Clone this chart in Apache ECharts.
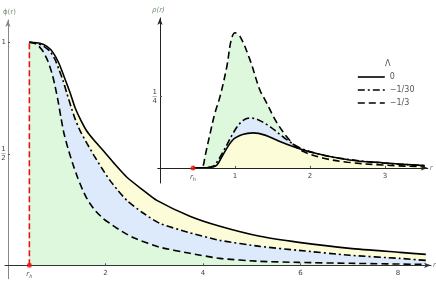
<!DOCTYPE html>
<html><head><meta charset="utf-8">
<script src="https://cdn.jsdelivr.net/npm/echarts@6/dist/echarts.min.js"></script>
<style>html,body{margin:0;padding:0;background:#fff}#c{width:436px;height:284px}</style>
</head><body><div id="c"></div>
<script>
const rh = 0.44;
const seriesNames = ['0', '\u22121/30', '\u22121/3'];
// main chart phi(r)
const phiSolidR = [0.44,0.656,0.8,0.923,1.046,1.149,1.272,1.374,1.497,1.621,1.785,1.949,2.195,2.441,2.749,3.056,3.733,4.349,5.169,5.969,7.015,8.041,8.574];
const phiSolid  = [1,0.996,0.982,0.955,0.906,0.848,0.776,0.709,0.650,0.601,0.556,0.516,0.453,0.395,0.341,0.291,0.220,0.175,0.130,0.103,0.076,0.058,0.049];
const phiDashDotR = [0.44,0.595,0.738,0.862,0.964,1.046,1.128,1.210,1.292,1.374,1.477,1.621,1.764,1.928,2.092,2.256,2.441,2.749,3.118,3.733,4.349,5.169,5.969,7.015,8.041,8.574];
const phiDashDot  = [1,0.996,0.982,0.960,0.924,0.879,0.830,0.771,0.713,0.659,0.605,0.547,0.493,0.435,0.381,0.336,0.291,0.238,0.188,0.146,0.112,0.085,0.067,0.045,0.031,0.022];
const phiDashedR = [0.44,0.533,0.615,0.718,0.821,0.903,0.964,1.026,1.087,1.149,1.231,1.333,1.436,1.538,1.641,1.785,1.949,2.092,2.338,2.605,3.118,3.733,4.349,5.169,5.969,7.015,8.574];
const phiDashed  = [1,0.996,0.987,0.960,0.915,0.861,0.807,0.740,0.664,0.592,0.525,0.453,0.390,0.336,0.291,0.247,0.211,0.188,0.152,0.121,0.081,0.054,0.031,0.018,0.013,0.009,0.004];
// inset rho(r)
const rhoSolidR = [0.44,0.62,0.7,0.76,0.84,0.97,1.1,1.24,1.4,1.64,2.0,2.53,2.97,3.53];
const rhoSolid  = [0,0,0.003,0.01,0.046,0.098,0.117,0.123,0.115,0.088,0.056,0.028,0.018,0.008];
const rhoDashDotR = [0.44,0.6,0.67,0.73,0.84,1.0,1.1,1.2,1.3,1.47,1.67,1.87,2.1,2.36,2.97,3.53];
const rhoDashDot  = [0,0,0.003,0.01,0.056,0.133,0.165,0.175,0.17,0.144,0.103,0.07,0.05,0.035,0.017,0.008];
const rhoDashedR = [0.44,0.52,0.57,0.6,0.67,0.73,0.8,0.89,0.95,1.0,1.07,1.2,1.33,1.4,1.56,1.72,1.87,2.17,2.5,2.97,3.53];
const rhoDashed  = [0,0,0.005,0.04,0.123,0.19,0.25,0.354,0.45,0.474,0.46,0.379,0.274,0.239,0.158,0.1,0.063,0.035,0.02,0.01,0.004];
const mainXTicks = [rh, 2, 4, 6, 8];
const mainYTicks = [0.5, 1];
const insetXTicks = [rh, 1, 2, 3];
const insetYTicks = [0.25];

const pair = (xs, ys) => xs.map((x, i) => [x, ys[i]]);
const GREEN = '#ddf8dc', BLUE = '#dceafc', YELLOW = '#fcfcd8';
const SOLID = 'solid', DASHDOT = [7, 3, 2, 3], DASHED = [7, 4];
const FONT = 'DejaVu Sans';

const rich = {
  r: {fontStyle: 'italic', fontSize: 7, color: '#555', fontFamily: FONT},
  h: {fontStyle: 'italic', fontSize: 5, color: '#555', verticalAlign: 'bottom', padding: [4, 0, 0, 0], fontFamily: FONT},
  n: {fontSize: 7, color: '#444', lineHeight: 7, align: 'center', fontFamily: FONT},
  b: {fontSize: 5, color: '#444', lineHeight: 2, align: 'center', fontFamily: FONT},
  d: {fontSize: 7, color: '#444', lineHeight: 7, align: 'center', fontFamily: FONT},
  t: {fontSize: 7, color: '#444', fontFamily: FONT}
};
const xFmt = v => Math.abs(v - rh) < 1e-6 ? '{r|r}{h|h}' : '{t|' + Math.round(v) + '}';
const yFmt = v => {
  if (Math.abs(v - 1) < 1e-6) return '{t|1}';
  if (Math.abs(v - 0.5) < 1e-6) return '{n|1}\n{b|\u2014}\n{d|2}';
  if (Math.abs(v - 0.25) < 1e-6) return '{n|1}\n{b|\u2014}\n{d|4}';
  return '';
};

function fill(xi, yi, xs, ys, color, z) {
  return {type: 'line', xAxisIndex: xi, yAxisIndex: yi, data: pair(xs, ys), symbol: 'none',
    smooth: 0.2, lineStyle: {width: 0, opacity: 0},
    areaStyle: {color: color, opacity: 1, origin: 'auto'}, z: z, silent: true, legendHoverLink: false};
}
function line(name, xi, yi, xs, ys, type, sm) {
  return {name: name, type: 'line', xAxisIndex: xi, yAxisIndex: yi, data: pair(xs, ys), symbol: 'none',
    smooth: sm, color: '#000', lineStyle: {color: '#000', width: 1.6, type: type}, z: 5};
}

const axisCommon = (color) => ({
  z: 8,
  axisLine: {show: true, onZero: true, lineStyle: {color: color, width: 1}, symbol: ['none', 'arrow'], symbolSize: [4, 7]},
  splitLine: {show: false}
});

const chart = echarts.init(document.getElementById('c'), null, {renderer: 'canvas'});
chart.setOption({
  animation: false,
  backgroundColor: '#fff',
  grid: [
    {left: 5, top: 20, width: 426, height: 258.7, outerBoundsMode: 'none', containLabel: false},
    {left: 157.75, top: 18, width: 270, height: 165, outerBoundsMode: 'none', containLabel: false}
  ],
  title: {text: '\u039b', left: 380, top: 55, textStyle: {fontSize: 8, fontWeight: 'normal', color: '#555', fontFamily: FONT}},
  legend: {
    orient: 'vertical', left: 352, top: 68, itemWidth: 27, itemHeight: 10, itemGap: 5,
    data: seriesNames, itemStyle: {opacity: 0}, lineStyle: {width: 1.6},
    textStyle: {fontSize: 8, color: '#555', fontFamily: FONT}, z: 10
  },
  xAxis: [
    Object.assign({gridIndex: 0, type: 'value', min: -0.06, max: 8.68, name: 'r', nameGap: 2,
      nameTextStyle: {fontSize: 7, color: '#777', fontStyle: 'italic', fontFamily: FONT},
      axisTick: {show: true, inside: true, length: 2, customValues: mainXTicks, lineStyle: {color: '#555'}},
      axisLabel: {customValues: mainXTicks, formatter: xFmt, rich: rich, margin: -8.7}}, axisCommon('#333')),
    Object.assign({gridIndex: 1, type: 'value', min: -0.03, max: 3.57, name: 'r', nameGap: 2,
      nameTextStyle: {fontSize: 7, color: '#777', fontStyle: 'italic', fontFamily: FONT},
      axisTick: {show: true, inside: true, length: 2, customValues: insetXTicks, lineStyle: {color: '#555'}},
      axisLabel: {customValues: insetXTicks, formatter: xFmt, rich: rich, margin: -10}}, axisCommon('#222'))
  ],
  yAxis: [
    Object.assign({gridIndex: 0, type: 'value', min: -0.06, max: 1.1, name: '\u03d5(r)', nameGap: 4,
      nameTextStyle: {fontSize: 7, color: '#6e946e', fontFamily: FONT, align: 'left', padding: [0, 0, 0, -5]},
      axisTick: {show: true, inside: true, length: 2, customValues: mainYTicks, lineStyle: {color: '#555'}},
      axisLabel: {customValues: mainYTicks, formatter: yFmt, rich: rich, margin: -1}}, axisCommon('#888')),
    Object.assign({gridIndex: 1, type: 'value', min: -0.053, max: 0.526, name: '\u03c1(r)', nameGap: 4,
      nameTextStyle: {fontSize: 7, color: '#6e946e', fontFamily: FONT, fontStyle: 'italic', align: 'left', padding: [0, 0, 0, -8]},
      axisTick: {show: true, inside: true, length: 2, customValues: insetYTicks, lineStyle: {color: '#555'}},
      axisLabel: {customValues: insetYTicks, formatter: yFmt, rich: rich, margin: 0.5}}, axisCommon('#222'))
  ],
  series: [
    fill(0, 0, phiSolidR, phiSolid, YELLOW, 1),
    fill(0, 0, phiDashDotR, phiDashDot, BLUE, 2),
    fill(0, 0, phiDashedR, phiDashed, GREEN, 3),
    line(seriesNames[0], 0, 0, phiSolidR, phiSolid, SOLID, 0.2),
    line(seriesNames[1], 0, 0, phiDashDotR, phiDashDot, DASHDOT, 0.2),
    line(seriesNames[2], 0, 0, phiDashedR, phiDashed, DASHED, 0.2),
    {type: 'line', xAxisIndex: 0, yAxisIndex: 0, data: [[rh, 0], [rh, 1]], symbol: 'none',
      lineStyle: {color: '#ee1111', width: 1.6, type: [6, 3]}, z: 9},
    {type: 'scatter', xAxisIndex: 0, yAxisIndex: 0, data: [[rh, 0]], symbolSize: 5, itemStyle: {color: '#ee1111'}, z: 9},
    fill(1, 1, rhoDashedR, rhoDashed, GREEN, 1),
    fill(1, 1, rhoDashDotR, rhoDashDot, BLUE, 2),
    fill(1, 1, rhoSolidR, rhoSolid, YELLOW, 3),
    line(seriesNames[0], 1, 1, rhoSolidR, rhoSolid, SOLID, 0.35),
    line(seriesNames[1], 1, 1, rhoDashDotR, rhoDashDot, DASHDOT, 0.35),
    line(seriesNames[2], 1, 1, rhoDashedR, rhoDashed, DASHED, 0.35),
    {type: 'scatter', xAxisIndex: 1, yAxisIndex: 1, data: [[rh, 0]], symbolSize: 5, itemStyle: {color: '#ee1111'}, z: 9}
  ]
});
</script></body></html>
